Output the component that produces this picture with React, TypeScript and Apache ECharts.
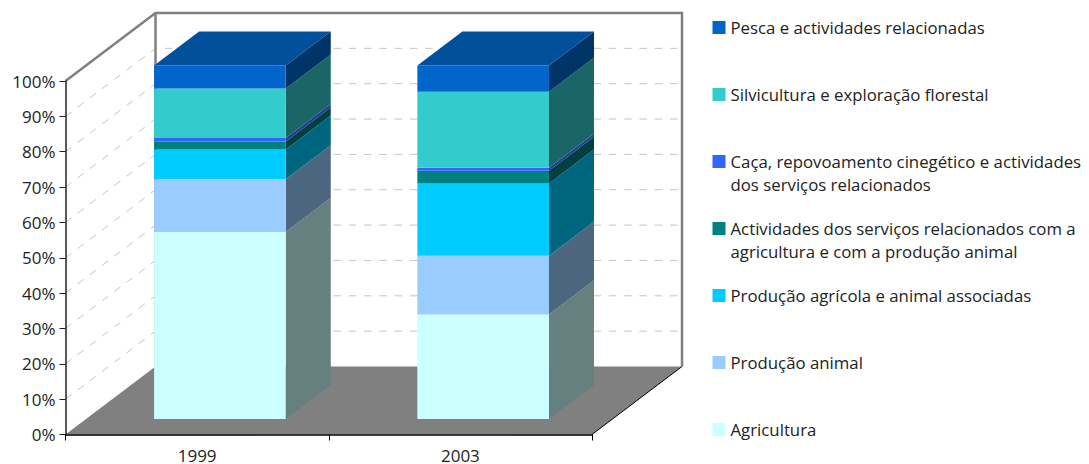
import React, { useEffect, useRef } from "react";
import * as echarts from "echarts";

const years = ["1999", "2003"];
const yTicks = [10, 20, 30, 40, 50, 60, 70, 80, 90];
const agricultura = [52.9, 29.55];
const producaoAnimal = [14.9, 16.65];
const producaoAssociada = [8.47, 20.4];
const servicos = [2.26, 3.65];
const caca = [0.93, 0.85];
const silvicultura = [14.04, 21.5];
const pesca = [6.5, 7.4];

const seriesNames = [
  "Agricultura",
  "Produção animal",
  "Produção agrícola e animal associadas",
  "Actividades dos serviços relacionados com a\nagricultura e com a produção animal",
  "Caça, repovoamento cinegético e actividades\ndos serviços relacionados",
  "Silvicultura e exploração florestal",
  "Pesca e actividades relacionadas",
];
const seriesValues = [agricultura, producaoAnimal, producaoAssociada, servicos, caca, silvicultura, pesca];
const frontColors = ["#CCFFFF", "#99CCFF", "#00CCFF", "#008080", "#3366FF", "#33CCCC", "#0066CC"];
const sideColors = ["#668080", "#4D6680", "#006680", "#004040", "#1F3D99", "#1A6666", "#003366"];
const topColor = "#00509C";

const FONT = "Open Sans";
const TEXT = "#222222";
const WALL_DX = 90, WALL_DY = -68;
const FRONT_DX = 22.8, FRONT_DY = -15.5;
const BAR_DX = 45, BAR_DY = -34;
const LINE_H = 23;

export default function App() {
  const ref = useRef<HTMLDivElement>(null);
  useEffect(() => {
    const chart = echarts.init(ref.current!, null, { renderer: "svg" });

    const wallSeries: any = {
      type: "custom",
      name: "wall",
      coordinateSystem: "cartesian2d",
      silent: true,
      z: 1,
      clip: false,
      data: [[0]],
      renderItem: (_p: any, api: any) => {
        const x0 = api.coord([0, 0])[0] - api.size([1, 0])[0] / 2;
        const x1 = x0 + api.size([1, 0])[0] * years.length;
        const yAt = (v: number) => api.coord([0, v])[1];
        const children: any[] = [];
        children.push({
          type: "polygon",
          shape: { points: [[x0, yAt(0)], [x1, yAt(0)], [x1 + WALL_DX, yAt(0) + WALL_DY], [x0 + WALL_DX, yAt(0) + WALL_DY]] },
          style: { fill: "#808080" },
        });
        yTicks.forEach((t) => {
          const y = yAt(t);
          children.push({
            type: "polyline",
            shape: { points: [[x0, y], [x0 + WALL_DX, y + WALL_DY], [x1 + WALL_DX, y + WALL_DY]] },
            style: { fill: "none", stroke: "#C4C4C4", lineWidth: 1, lineDash: [7.5, 7.8] },
          });
        });
        children.push({
          type: "polyline",
          shape: {
            points: [
              [x0, yAt(100)],
              [x0 + WALL_DX, yAt(100) + WALL_DY],
              [x1 + WALL_DX, yAt(100) + WALL_DY],
              [x1 + WALL_DX, yAt(0) + WALL_DY],
            ],
          },
          style: { fill: "none", stroke: "#808080", lineWidth: 2.5 },
        });
        children.push({
          type: "line",
          shape: { x1: x0 + WALL_DX, y1: yAt(100) + WALL_DY, x2: x0 + WALL_DX, y2: yAt(0) + WALL_DY },
          style: { stroke: "#808080", lineWidth: 2.5 },
        });
        children.push({
          type: "line",
          shape: { x1, y1: yAt(0), x2: x1 + WALL_DX, y2: yAt(0) + WALL_DY },
          style: { stroke: "#000000", lineWidth: 1 },
        });
        return { type: "group", children };
      },
    };

    const barSeries = seriesValues.map((values, idx) => {
      const data = values.map((v, i) => {
        let base = 0;
        for (let k = 0; k < idx; k++) base += seriesValues[k][i];
        return [i, base, base + v];
      });
      return {
        type: "custom",
        name: seriesNames[idx],
        coordinateSystem: "cartesian2d",
        itemStyle: { color: frontColors[idx] },
        z: 2,
        clip: false,
        silent: true,
        encode: { x: 0, y: [1, 2] },
        data,
        renderItem: (_p: any, api: any) => {
          const cat = api.value(0);
          const lo = api.coord([cat, api.value(1)]);
          const hi = api.coord([cat, api.value(2)]);
          const w = api.size([1, 0])[0] * 0.5;
          const l = lo[0] - w / 2 + FRONT_DX;
          const r = l + w;
          const yb = lo[1] + FRONT_DY;
          const yt = hi[1] + FRONT_DY;
          const children: any[] = [
            {
              type: "polygon",
              shape: { points: [[r, yb], [r + BAR_DX, yb + BAR_DY], [r + BAR_DX, yt + BAR_DY], [r, yt]] },
              style: { fill: sideColors[idx] },
            },
            { type: "rect", shape: { x: l, y: yt, width: w, height: yb - yt }, style: { fill: frontColors[idx] } },
          ];
          if (idx === seriesValues.length - 1) {
            children.push({
              type: "polygon",
              shape: { points: [[l, yt], [r, yt], [r + BAR_DX, yt + BAR_DY], [l + BAR_DX, yt + BAR_DY]] },
              style: { fill: topColor },
            });
          }
          return { type: "group", children };
        },
      };
    });

    const legendIconTops = [423, 356, 289, 222, 155, 88, 21];
    const legend = seriesNames.map((name, idx) => {
      const twoLines = name.includes("\n");
      return {
        data: [{ name, icon: "rect", itemStyle: { color: frontColors[idx] } }],
        left: 712.5,
        top: legendIconTops[idx] - (twoLines ? 28 : 5),
        orient: "vertical",
        padding: 0,
        selectedMode: false,
        itemWidth: 13,
        itemHeight: 13,
        // A blank first line centres the block on the real first line, so the key sits beside it.
        formatter: (n: string) => (n.includes("\n") ? "\u00a0\n" + n : n),
        textStyle: {
          fontFamily: FONT,
          fontSize: 16.8,
          color: TEXT,
          lineHeight: LINE_H,
        },
      };
    });

    chart.setOption({
      animation: false,
      backgroundColor: "#ffffff",
      grid: { left: 65.5, top: 81, width: 526.5, height: 353.5 },
      legend,
      xAxis: {
        type: "category",
        data: years,
        z: 5,
        axisLine: { lineStyle: { color: "#000000", width: 1.5 } },
        axisTick: { show: true, alignWithLabel: false, length: 6, lineStyle: { color: "#000000" } },
        axisLabel: { fontFamily: FONT, fontSize: 17, color: TEXT, margin: 13, lineHeight: 15 },
        splitLine: { show: false },
      },
      yAxis: {
        type: "value",
        min: 0,
        max: 100,
        interval: 10,
        z: 5,
        axisLine: { show: true, lineStyle: { color: "#222222", width: 1.5 } },
        axisTick: { show: true, length: 6, lineStyle: { color: "#222222" } },
        axisLabel: { fontFamily: FONT, fontSize: 17, color: TEXT, margin: 10, formatter: "{value}%" },
        splitLine: { show: false },
      },
      series: [wallSeries, ...barSeries],
    });
    return () => chart.dispose();
  }, []);
  return <div ref={ref} style={{ position: "fixed", left: 0, top: 0, width: 1089, height: 464 }} />;
}
